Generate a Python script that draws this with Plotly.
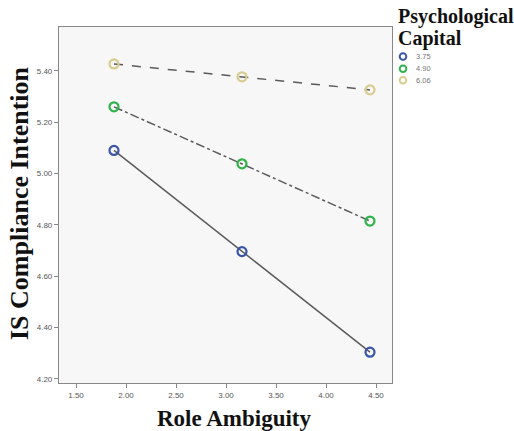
import plotly.graph_objects as go

role_ambiguity = [1.88, 3.16, 4.44]
groups = ["3.75", "4.90", "6.06"]
ci_low = [5.09, 4.696, 4.304]
ci_mid = [5.26, 5.038, 4.815]
ci_high = [5.427, 5.377, 5.326]
series = [ci_low, ci_mid, ci_high]
marker_colors = ["#3a55a8", "#2fb34a", "#d8cc8e"]
line_dashes = ["solid", "dashdot", "dash"]

x_ticks = [1.5, 2.0, 2.5, 3.0, 3.5, 4.0, 4.5]
y_ticks = [4.2, 4.4, 4.6, 4.8, 5.0, 5.2, 5.4]

W, H = 514, 431
L, R, T, B = 59, 122, 27, 48
pw, ph = W - L - R, H - T - B

def px(xp):
    return (xp - L) / pw

def py(yp):
    return 1 - (yp - T) / ph

fig = go.Figure()
for name, ys, col, dash in zip(groups, series, marker_colors, line_dashes):
    fig.add_trace(go.Scatter(
        x=role_ambiguity, y=ys, mode="lines+markers", showlegend=False, name=name,
        line=dict(color="#5a5a5a", width=1.5, dash=dash),
        marker=dict(symbol="circle-open", size=9, color=col, line=dict(width=2.2, color=col)),
    ))

serif = "Liberation Serif, Times New Roman, serif"
annotations = [
    dict(text="<b>Role Ambiguity</b>", x=px(234), y=py(418.5), xref="paper", yref="paper",
         xanchor="center", yanchor="middle", showarrow=False,
         font=dict(family=serif, size=23, color="#111")),
    dict(text="<b>IS Compliance Intention</b>", x=px(19), y=py(203), xref="paper", yref="paper",
         xanchor="center", yanchor="middle", showarrow=False, textangle=-90,
         font=dict(family=serif, size=26, color="#111")),
    dict(text="<b>Psychological</b>", x=px(396), y=py(16.5), xref="paper", yref="paper",
         xanchor="left", yanchor="middle", showarrow=False,
         font=dict(family=serif, size=20, color="#111")),
    dict(text="<b>Capital</b>", x=px(396), y=py(38.5), xref="paper", yref="paper",
         xanchor="left", yanchor="middle", showarrow=False,
         font=dict(family=serif, size=20, color="#111")),
]
shapes = []
legend_y = [56.5, 68.7, 80.3]
for name, col, ly in zip(groups, marker_colors, legend_y):
    shapes.append(dict(type="circle", xref="paper", yref="paper",
                       x0=px(399.7), x1=px(406.3), y0=py(ly - 3.3), y1=py(ly + 3.3),
                       line=dict(color=col, width=2)))
    annotations.append(dict(text=name, x=px(414), y=py(ly), xref="paper", yref="paper",
                            xanchor="left", yanchor="middle", showarrow=False,
                            font=dict(size=7.5, color="#777")))

fig.update_layout(
    width=W, height=H,
    margin=dict(l=L, r=R, t=T, b=B, autoexpand=False),
    paper_bgcolor="white", plot_bgcolor="#f7f7f7",
    font=dict(family="Liberation Sans, Arial", size=8, color="#555"),
    showlegend=False,
    annotations=annotations, shapes=shapes,
    xaxis=dict(
        range=[1.33, 4.66], tickvals=x_ticks, tickformat=".2f",
        showgrid=False, zeroline=False,
        showline=True, linecolor="#888", linewidth=1.2, mirror=True,
        ticks="outside", ticklen=4, tickcolor="#888",
    ),
    yaxis=dict(
        range=[4.184, 5.571], tickvals=y_ticks, tickformat=".2f",
        showgrid=False, zeroline=False,
        showline=True, linecolor="#888", linewidth=1.2, mirror=True,
        ticks="outside", ticklen=4, tickcolor="#888",
    ),
)

fig.write_html(
    "out.html",
    config={"displayModeBar": False},
    post_script="document.body.style.margin='0';document.body.style.padding='0';document.body.style.overflow='hidden';",
)
